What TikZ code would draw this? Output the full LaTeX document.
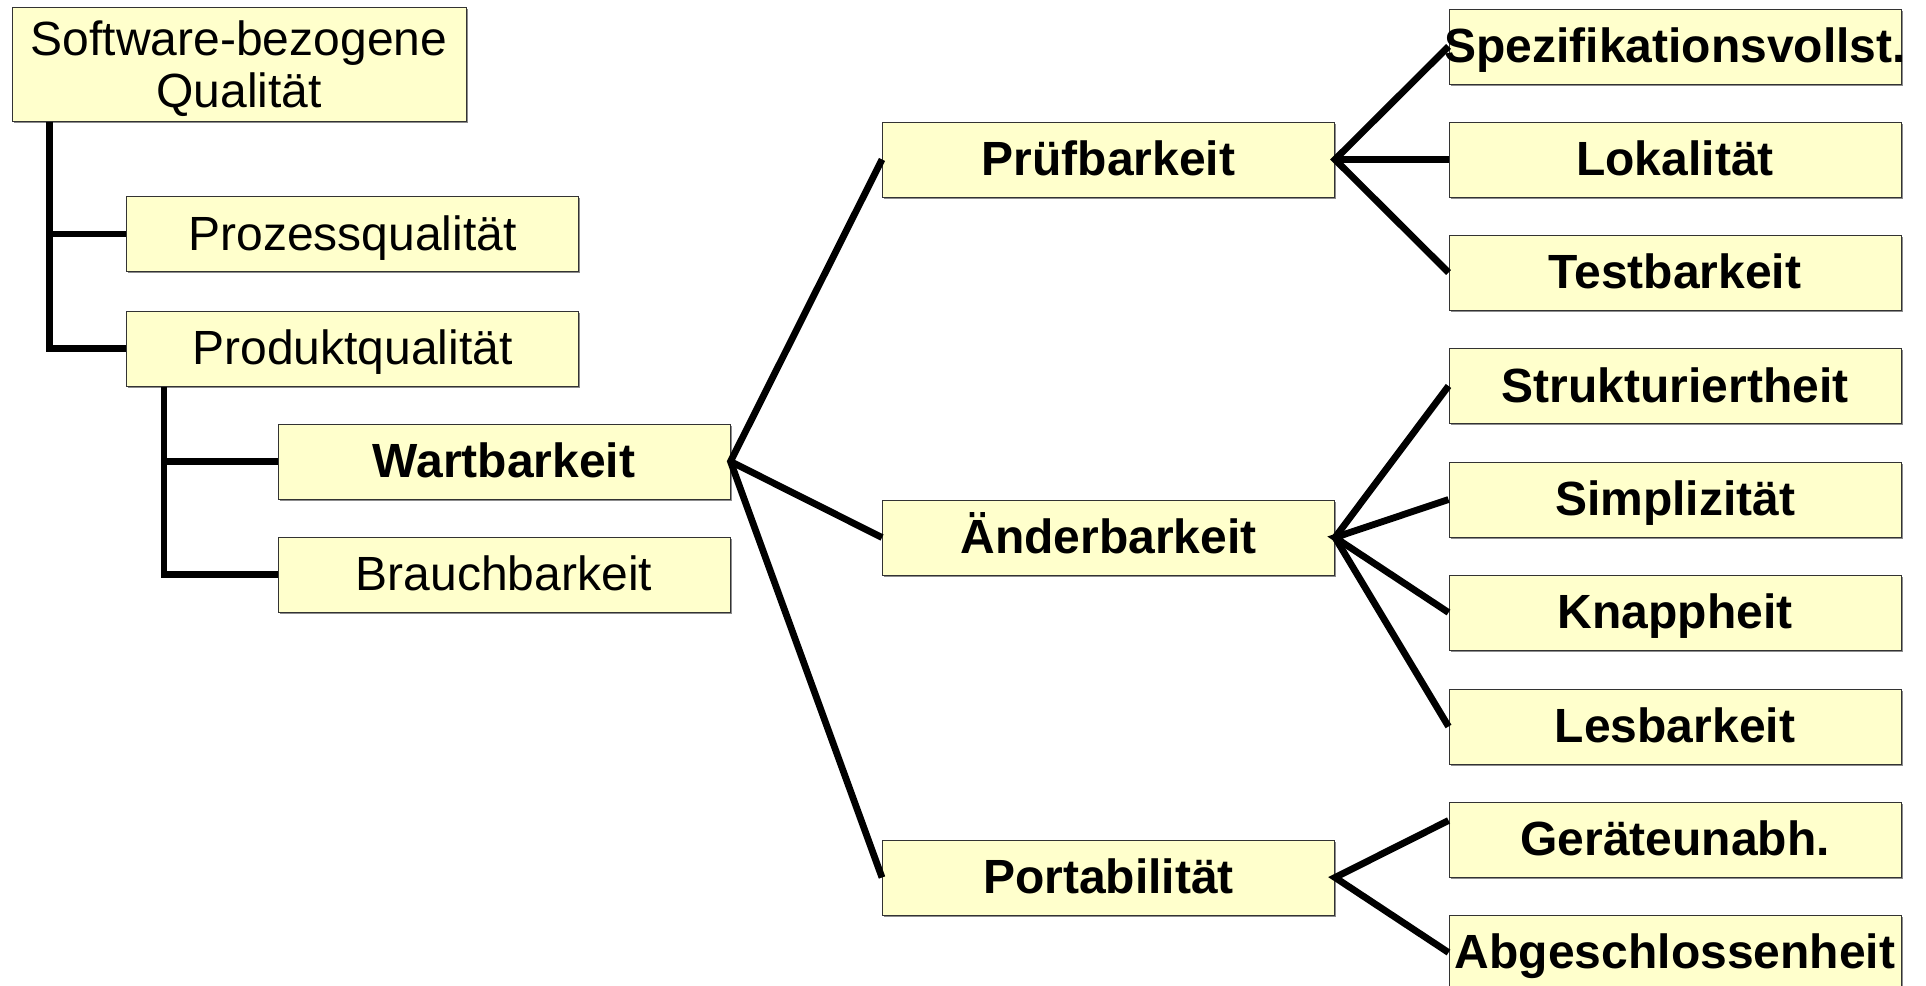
\documentclass[tikz,border=0pt]{standalone}
\usepackage{fontspec}
\setmainfont{Liberation Sans}
\usepackage{tikz}
\usetikzlibrary{shadows}

\begin{document}
\begin{tikzpicture}[x=0.5pt,y=-0.5pt]
\tikzset{mybox/.style={draw=black!80,line width=0.5pt,fill=boxyellow,
    minimum width=\boxwd,minimum height=37.5pt,inner sep=0pt,align=center,
    font=\fontsize{24}{26}\selectfont,
    drop shadow={shadow xshift=0.8pt,shadow yshift=-0.8pt,fill=black!45,opacity=1}}}
\tikzset{mysingle/.style={mybox,text height=20.5pt,text depth=4.5pt}}
\tikzset{myboldbox/.style={mysingle,font=\fontsize{24}{26}\selectfont\bfseries}}
\tikzset{mylines/.style={line width=3.4pt,black}}
\definecolor{boxyellow}{HTML}{FFFFCC}
\def\boxwd{226pt}
\useasboundingbox (0,0) rectangle (1926,985);

% left part
\node[mybox,minimum width=227pt,minimum height=57pt] (root) at (239,64) {\rule{0pt}{22.5pt}Software-bezogene\\Qualität};
\node[mysingle] (prozess) at (352.5,234) {Prozessqualität};
\node[mysingle] (produkt) at (352.5,348.5) {Produktqualität};
\node[myboldbox] (wart) at (504,461.5) {Wartbarkeit};
\node[mysingle] (brauch) at (504,574.5) {Brauchbarkeit};

% middle column
\node[myboldbox] (pruef) at (1108.5,159.5) {Prüfbarkeit};
\node[myboldbox] (aender) at (1108.5,537.5) {Änderbarkeit};
\node[myboldbox] (port) at (1108.5,877.5) {Portabilität};

% right column
\node[myboldbox] (spez) at (1675,46.5) {\makebox[\boxwd]{Spezifikationsvollst.}};
\node[myboldbox] (lokal) at (1675,159.5) {Lokalität};
\node[myboldbox] (test) at (1675,272.5) {Testbarkeit};
\node[myboldbox] (strukt) at (1675,386) {Strukturiertheit};
\node[myboldbox] (simpl) at (1675,499.5) {Simplizität};
\node[myboldbox] (knapp) at (1675,612.5) {Knappheit};
\node[myboldbox] (lesb) at (1675,726.5) {Lesbarkeit};
\node[myboldbox] (geraet) at (1675,839.5) {Geräteunabh.};
\node[myboldbox] (abgeschl) at (1675,952.5) {\makebox[\boxwd]{Abgeschlossenheit}};

% tree lines
\coordinate (rootstem) at ([xshift=19pt]root.south west);
\coordinate (produktstem) at ([xshift=19pt]produkt.south west);
\draw[mylines] (rootstem) |- (produkt.west);
\draw[mylines] (rootstem |- prozess.west) -- (prozess.west);
\draw[mylines] (produktstem) |- (brauch.west);
\draw[mylines] (produktstem |- wart.west) -- (wart.west);

\draw[mylines] (pruef.west) -- (wart.east) -- (port.west);
\draw[mylines] (wart.east) -- (aender.west);

\draw[mylines] (spez.west) -- (pruef.east) -- (test.west);
\draw[mylines] (pruef.east) -- (lokal.west);

\draw[mylines] (strukt.west) -- (aender.east) -- (lesb.west);
\draw[mylines] (simpl.west) -- (aender.east) -- (knapp.west);

\draw[mylines] ([yshift=9.5pt]geraet.west) -- (port.east) -- (abgeschl.west);
\end{tikzpicture}
\end{document}
